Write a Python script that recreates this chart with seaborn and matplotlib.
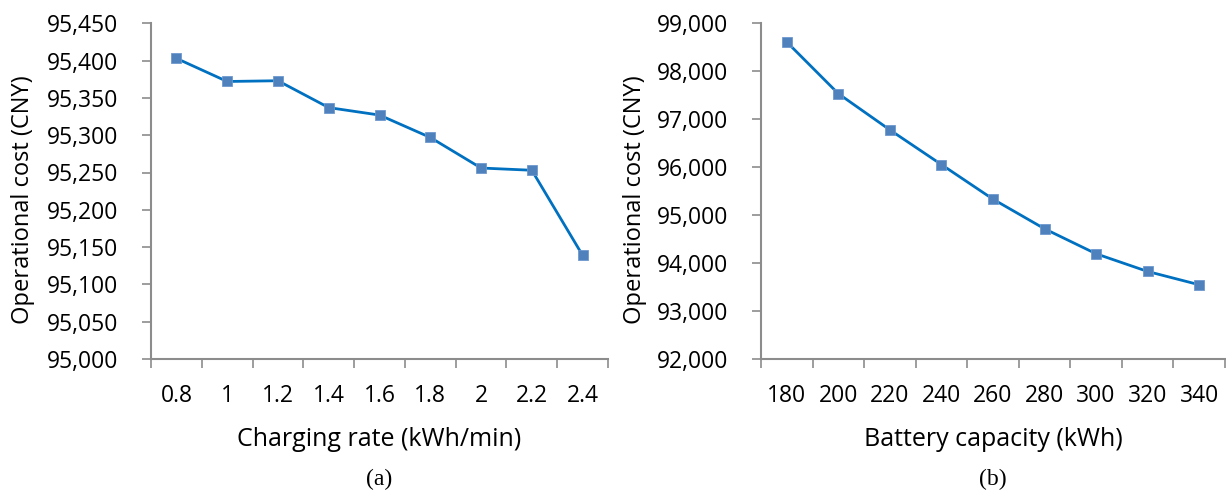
import matplotlib
matplotlib.use("Agg")
import matplotlib.pyplot as plt
import seaborn as sns
import numpy as np
import pandas as pd
from matplotlib.ticker import FuncFormatter, FixedLocator

# Sensitivity data
charging_rate = ["0.8", "1", "1.2", "1.4", "1.6", "1.8", "2", "2.2", "2.4"]
cost_rate = [95403, 95372, 95373, 95337, 95327, 95297, 95256, 95253, 95139]

battery_capacity = ["180", "200", "220", "240", "260", "280", "300", "320", "340"]
cost_capacity = [98610, 97533, 96777, 96054, 95333, 94715, 94194, 93825, 93548]

sns.set_theme(style="white")
plt.rcParams["font.family"] = ["Open Sans", "DejaVu Sans"]
plt.rcParams["text.color"] = "black"
plt.rcParams["axes.labelcolor"] = "black"
plt.rcParams["xtick.labelcolor"] = "black"
plt.rcParams["ytick.labelcolor"] = "black"

LINE = "#0070C0"
MARK = "#4F81BD"
AXIS = "#8C8C8C"

W, H = 1226, 491
AX_H = 335.7
fig = plt.figure(figsize=(W / 100, H / 100), dpi=100)
ax_a = fig.add_axes([151 / W, 1 - 359 / H, 457 / W, AX_H / H])
ax_b = fig.add_axes([761 / W, 1 - 359 / H, 464 / W, AX_H / H])


def draw(ax, cats, vals, ylim, ystep, xlabel, tag, ylab_x):
    df = pd.DataFrame({"pos": np.arange(len(cats)), "cost": vals})
    sns.lineplot(data=df, x="pos", y="cost", ax=ax, color=LINE, lw=2.0,
                 marker="s", markersize=7.5, markerfacecolor=MARK,
                 markeredgecolor="#6E98CF", markeredgewidth=0.6)
    n = len(cats)
    ax.set_xlim(-0.5, n - 0.5)
    ax.set_ylim(*ylim)
    # category labels centred, tick marks between categories
    ax.set_xticks(np.arange(n))
    ax.set_xticklabels(cats)
    ax.xaxis.set_minor_locator(FixedLocator(np.arange(n + 1) - 0.5))
    ax.tick_params(axis="x", which="major", length=0, pad=18, labelsize=16.5,
                   labelcolor="black")
    ax.tick_params(axis="x", which="minor", length=6.5, width=1.2, color=AXIS,
                   bottom=True)
    ax.set_yticks(np.arange(ylim[0], ylim[1] + 1, ystep))
    ax.yaxis.set_major_formatter(FuncFormatter(lambda v, p: f"{int(v):,}"))
    ax.tick_params(axis="y", length=6.5, width=1.2, color=AXIS, pad=17,
                   labelsize=16.5, left=True, labelcolor="black")
    for s in ["top", "right"]:
        ax.spines[s].set_visible(False)
    for s in ["left", "bottom"]:
        ax.spines[s].set_color(AXIS)
        ax.spines[s].set_linewidth(1.5)
    ax.set_xlabel(xlabel, fontsize=18, va="center", color="black")
    ax.xaxis.set_label_coords(0.5, -81 / AX_H)
    ax.set_ylabel("Operational cost (CNY)", fontsize=17, va="center",
                  color="black")
    ax.yaxis.set_label_coords(ylab_x, 0.474)
    ax.grid(False)
    ax.text(0.5, -120 / AX_H, tag, transform=ax.transAxes, ha="center",
            va="center", fontsize=17, family="Liberation Serif", color="black")


draw(ax_a, charging_rate, cost_rate, (95000, 95450), 50,
     "Charging rate (kWh/min)", "(a)", -128 / 457)
draw(ax_b, battery_capacity, cost_capacity, (92000, 99000), 1000,
     "Battery capacity (kWh)", "(b)", -126 / 464)

fig.savefig("out.png", dpi=100, facecolor="white")
